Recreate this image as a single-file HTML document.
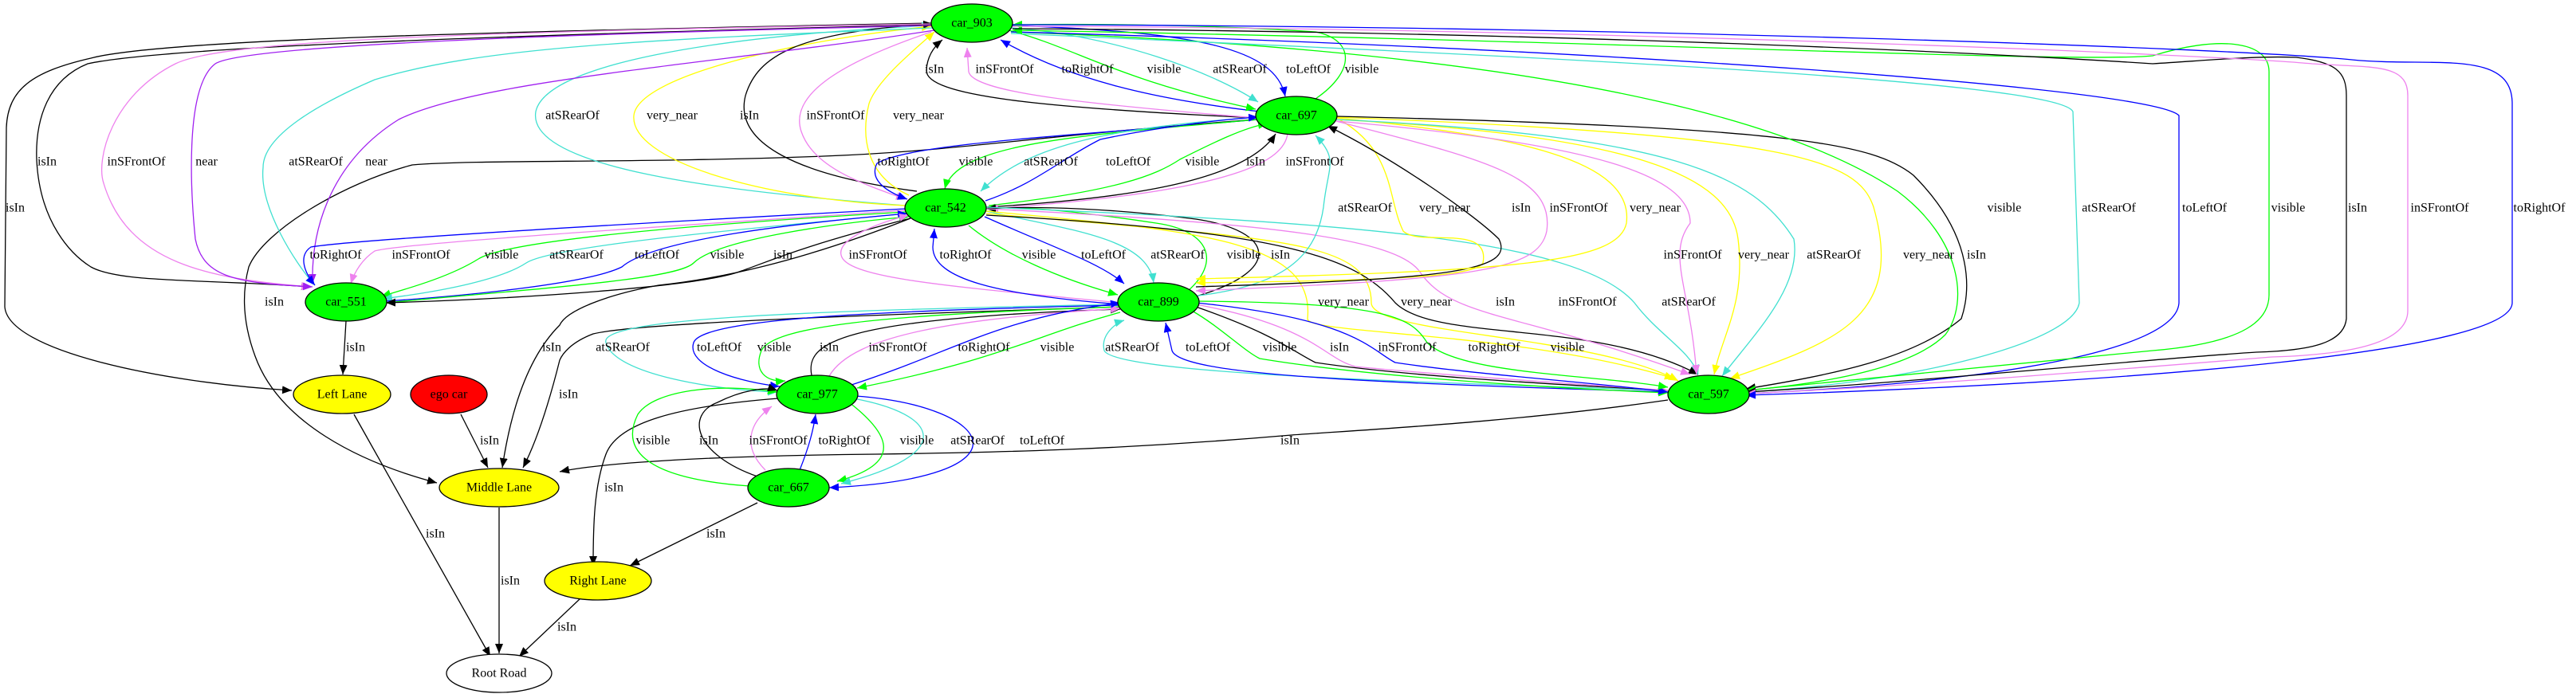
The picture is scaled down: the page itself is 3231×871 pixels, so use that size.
<!DOCTYPE html>
<html><head><meta charset="utf-8"><style>
html,body{margin:0;padding:0;background:#fff}
svg{display:block}
text{font-family:"Liberation Serif",serif;font-size:16px;fill:#000;text-anchor:middle;dominant-baseline:central}
path{fill:none;stroke-width:1.3}
.k{stroke:#000}.b{stroke:#0000ff}.g{stroke:#00ff00}.v{stroke:#ee82ee}.t{stroke:#40e0d0}.y{stroke:#ffff00}.p{stroke:#a020f0}
.k{marker-end:url(#mk)}.b{marker-end:url(#mb)}.g{marker-end:url(#mg)}.v{marker-end:url(#mv)}.t{marker-end:url(#mt)}.y{marker-end:url(#my)}.p{marker-end:url(#mp)}
ellipse{stroke:#000;stroke-width:1.3}
</style></head><body>
<svg width="3231" height="871" viewBox="0 0 3231 871" xmlns="http://www.w3.org/2000/svg">
<defs>
<marker id="mk" markerUnits="userSpaceOnUse" markerWidth="14" markerHeight="12" refX="12" refY="5" orient="auto"><path d="M0,0 L12,5 L0,10z" style="fill:#000;stroke:none"/></marker>
<marker id="mb" markerUnits="userSpaceOnUse" markerWidth="14" markerHeight="12" refX="12" refY="5" orient="auto"><path d="M0,0 L12,5 L0,10z" style="fill:#0000ff;stroke:none"/></marker>
<marker id="mg" markerUnits="userSpaceOnUse" markerWidth="14" markerHeight="12" refX="12" refY="5" orient="auto"><path d="M0,0 L12,5 L0,10z" style="fill:#00ff00;stroke:none"/></marker>
<marker id="mv" markerUnits="userSpaceOnUse" markerWidth="14" markerHeight="12" refX="12" refY="5" orient="auto"><path d="M0,0 L12,5 L0,10z" style="fill:#ee82ee;stroke:none"/></marker>
<marker id="mt" markerUnits="userSpaceOnUse" markerWidth="14" markerHeight="12" refX="12" refY="5" orient="auto"><path d="M0,0 L12,5 L0,10z" style="fill:#40e0d0;stroke:none"/></marker>
<marker id="my" markerUnits="userSpaceOnUse" markerWidth="14" markerHeight="12" refX="12" refY="5" orient="auto"><path d="M0,0 L12,5 L0,10z" style="fill:#ffff00;stroke:none"/></marker>
<marker id="mp" markerUnits="userSpaceOnUse" markerWidth="14" markerHeight="12" refX="12" refY="5" orient="auto"><path d="M0,0 L12,5 L0,10z" style="fill:#a020f0;stroke:none"/></marker>
</defs>

<!-- tree edges -->
<path class="k" d="M434,403 L430,470"/>
<path class="k" d="M1170,29 C600,40 200,50 114,73 C40,90 10,112 8,160 L6,385 C10,440 200,480 366,490"/>
<path class="k" d="M1170,31 C600,45 200,60 110,80 C60,100 44,150 46,201 C50,280 90,320 114,335 C150,355 250,350 390,360"/>
<path class="k" d="M1576,150 C1300,170 1200,190 1033,196 C800,205 600,200 517,207 C430,230 330,290 312,335 C300,380 310,420 320,447 C350,530 450,580 548,606"/>
<path class="k" d="M1142,274 C1000,330 900,350 826,358 C760,370 710,390 702,408 C660,450 640,520 630,587"/>
<path class="k" d="M1405,385 C1100,395 800,405 744,419 C715,430 705,445 702,452 C690,500 675,550 656,587"/>
<path class="k" d="M578,520 L612,587"/>
<path class="k" d="M2092,502 C1900,530 1700,540 1620,546 C1400,565 1240,568 1100,570 C900,572 760,580 702,592"/>
<path class="k" d="M950,631 L790,710"/>
<path class="k" d="M976,500 C850,510 775,530 760,570 C745,610 744,660 744,710"/>
<path class="k" d="M444,520 L615,824"/>
<path class="k" d="M626,637 L626,820"/>
<path class="k" d="M728,751 L651,824"/>

<!-- 903 <-> 697 -->
<path class="k" d="M1577,148 C1300,135 1160,120 1162,88 C1163,70 1172,58 1182,50"/>
<path class="v" d="M1577,148 C1350,130 1220,115 1215,90 L1213,60"/>
<path class="b" d="M1580,140 C1450,125 1340,100 1255,50"/>
<path class="g" d="M1265,38 C1350,60 1400,100 1575,137"/>
<path class="t" d="M1268,35 C1400,45 1520,90 1578,128"/>
<path class="b" d="M1268,32 C1500,40 1600,60 1612,121"/>
<path class="g" d="M1650,124 C1700,90 1700,50 1650,40 C1500,30 1350,30 1270,31"/>

<!-- 903 <-> 542 -->
<path class="t" d="M1136,258 C900,240 660,210 672,140 C685,80 900,45 1168,32"/>
<path class="y" d="M1136,258 C950,250 790,200 795,145 C800,95 1000,50 1168,33"/>
<path class="k" d="M1150,240 C1000,220 920,180 935,120 C950,70 1000,40 1170,30"/>
<path class="v" d="M1168,40 C1050,80 990,120 1005,165 C1020,210 1080,230 1136,250"/>
<path class="y" d="M1140,245 C1085,220 1080,170 1090,130 C1100,100 1150,60 1172,40"/>

<!-- 903 -> 551 -->
<path class="v" d="M1168,30 C600,40 280,50 220,80 C140,120 120,200 130,230 C160,330 260,350 390,360"/>
<path class="p" d="M1168,32 C600,45 300,60 270,80 C230,110 240,250 245,300 C255,350 300,355 392,360"/>
<path class="t" d="M1170,35 C800,50 600,60 470,100 C400,130 330,170 330,210 C325,260 370,330 395,358"/>
<path class="p" d="M1172,38 C900,80 600,100 500,150 C420,200 390,280 392,356"/>

<!-- 697 <-> 542 -->
<path class="b" d="M1578,150 C1350,170 1140,180 1100,205 C1090,225 1110,240 1138,250"/>
<path class="g" d="M1578,150 C1350,170 1200,180 1185,237"/>
<path class="t" d="M1578,147 C1400,160 1290,180 1230,240"/>
<path class="b" d="M1236,252 C1300,230 1330,200 1380,175 C1450,160 1530,150 1578,147"/>
<path class="g" d="M1240,258 C1400,240 1450,220 1480,200 C1520,180 1560,160 1590,155"/>
<path class="k" d="M1237,260 C1400,250 1560,230 1600,168"/>
<path class="v" d="M1615,168 C1610,200 1560,240 1240,262"/>

<!-- 542 <-> 551 -->
<path class="b" d="M1136,262 C800,280 450,300 390,310 C375,320 380,340 395,358"/>
<path class="v" d="M1136,264 C900,280 500,305 470,315 C455,325 445,340 440,356"/>
<path class="g" d="M1136,266 C900,280 640,300 600,325 C560,350 500,365 478,372"/>
<path class="t" d="M1138,268 C900,290 690,310 660,330 C630,350 560,365 480,375"/>
<path class="b" d="M484,378 C600,370 740,355 780,335 C820,300 1000,280 1138,268"/>
<path class="g" d="M484,380 C700,360 850,350 870,330 C900,300 1050,280 1140,272"/>
<path class="k" d="M1142,274 C1000,310 960,330 930,340 C880,360 650,375 484,380"/>

<!-- 542 <-> 899 -->
<path class="v" d="M1405,380 C1200,360 1060,350 1055,320 C1050,300 1100,280 1140,270"/>
<path class="b" d="M1405,382 C1250,370 1170,350 1170,310 L1172,287"/>
<path class="g" d="M1215,283 C1260,320 1330,350 1402,370"/>
<path class="b" d="M1235,272 C1320,310 1380,330 1410,356"/>
<path class="t" d="M1237,265 C1350,290 1440,300 1447,355"/>
<path class="g" d="M1490,365 C1530,330 1520,290 1450,280 C1350,265 1280,258 1236,262"/>
<path class="k" d="M1500,372 C1610,340 1600,290 1500,275 C1400,262 1300,258 1237,262"/>

<!-- 542 -> 597 -->
<path class="y" d="M1237,265 C1500,290 1650,300 1640,400 C1640,420 1900,415 2100,475"/>
<path class="y" d="M1237,268 C1600,300 1720,300 1720,380 C1720,420 2000,420 2105,478"/>
<path class="k" d="M1237,270 C1600,290 1700,320 1750,380 C1800,430 2000,400 2130,470"/>
<path class="v" d="M1237,262 C1600,280 1750,300 1780,340 C1820,400 1900,390 2120,470"/>
<path class="t" d="M1237,260 C1700,280 1980,300 2050,380 C2080,420 2120,440 2130,470"/>

<!-- 697 <-> 899 / 597 -->
<path class="t" d="M1495,372 C1600,360 1650,330 1660,260 C1665,210 1680,200 1650,170"/>
<path class="y" d="M1680,150 C1750,190 1740,250 1760,290 C1780,310 1870,280 1860,330 C1850,350 1700,352 1500,355"/>
<path class="k" d="M1500,360 C1820,350 1900,340 1880,300 C1850,270 1750,200 1665,158"/>
<path class="v" d="M1676,152 C1860,200 1950,220 1940,290 C1930,340 1850,350 1500,365"/>
<path class="y" d="M1676,148 C1900,170 2050,200 2040,280 C2030,330 1900,340 1500,350"/>
<path class="v" d="M1676,152 C2000,180 2120,220 2120,280 C2090,320 2120,360 2128,470"/>
<path class="y" d="M1676,150 C2050,170 2170,220 2180,300 C2190,380 2160,420 2150,470"/>
<path class="t" d="M1676,150 C2100,170 2200,220 2250,300 C2260,360 2200,420 2160,472"/>
<path class="y" d="M1676,147 C2250,170 2330,200 2350,260 C2390,400 2300,430 2170,475"/>
<path class="k" d="M1676,146 C2250,160 2350,180 2400,220 C2480,300 2470,370 2460,400 C2400,450 2300,470 2190,488"/>

<!-- 903 -> 597 long -->
<path class="g" d="M1268,40 C1800,60 2200,120 2380,240 C2460,300 2470,380 2440,420 C2400,460 2300,480 2190,490"/>
<path class="t" d="M1268,42 C1900,70 2580,100 2600,140 L2608,380 C2600,430 2400,480 2190,492"/>
<path class="b" d="M1268,40 C2000,60 2700,110 2733,145 L2733,380 C2730,440 2500,480 2190,494"/>
<path class="g" d="M2190,490 C2400,470 2600,450 2700,440 C2820,430 2846,400 2846,370 L2846,90 C2846,50 2780,45 2700,70 C2600,80 2000,50 1270,38"/>
<path class="k" d="M1270,36 C2000,40 2550,70 2700,80 C2780,75 2830,70 2880,72 C2930,78 2943,90 2943,120 L2943,400 C2940,430 2900,440 2830,442 C2700,450 2400,480 2190,492"/>
<path class="v" d="M1270,33 C2000,35 2800,70 2900,80 C2980,85 3020,80 3020,120 L3020,390 C3020,430 2950,445 2850,448 C2700,460 2400,485 2190,494"/>
<path class="b" d="M1270,31 C2000,32 2800,60 2950,75 C3050,85 3151,60 3151,130 L3151,380 C3151,440 2700,480 2190,496"/>

<!-- 899 <-> 597 -->
<path class="t" d="M2092,490 C1800,480 1400,470 1385,440 C1380,420 1400,405 1410,402"/>
<path class="b" d="M2092,492 C1700,480 1480,470 1470,440 L1462,405"/>
<path class="g" d="M1495,390 C1530,410 1560,440 1580,450 C1700,470 1900,485 2092,493"/>
<path class="k" d="M1500,385 C1600,420 1620,440 1650,455 C1750,470 1900,480 2092,490"/>
<path class="v" d="M1500,382 C1650,410 1660,450 1700,460 C1800,470 1950,480 2092,490"/>
<path class="b" d="M1500,380 C1700,400 1720,440 1750,455 C1850,470 2000,480 2092,492"/>
<path class="g" d="M1500,378 C1750,380 1770,400 1790,430 C1830,470 2000,470 2092,486"/>

<!-- 899 <-> 977 -->
<path class="t" d="M1405,382 C1000,390 750,400 760,430 C770,470 900,490 975,492"/>
<path class="b" d="M1405,383 C1100,390 880,400 870,430 C860,460 930,480 978,485"/>
<path class="g" d="M1405,385 C1100,395 970,410 955,440 C945,465 960,480 985,478"/>
<path class="k" d="M1018,471 C1010,430 1050,400 1405,388"/>
<path class="v" d="M1040,472 C1070,420 1200,400 1405,387"/>
<path class="b" d="M1068,483 C1200,440 1250,400 1405,380"/>
<path class="g" d="M1405,392 C1300,420 1260,450 1075,487"/>

<!-- 977 <-> 667 -->
<path class="g" d="M940,610 C800,600 780,560 800,520 C820,490 900,480 975,492"/>
<path class="k" d="M950,598 C870,570 860,520 900,505 C930,490 960,485 975,490"/>
<path class="v" d="M960,590 C930,560 940,530 968,510"/>
<path class="b" d="M1003,590 C1015,560 1020,540 1023,520"/>
<path class="g" d="M1065,505 C1110,540 1140,580 1050,604"/>
<path class="t" d="M1070,500 C1180,520 1200,570 1055,607"/>
<path class="b" d="M1073,497 C1250,510 1300,600 1040,612"/>

<!-- nodes -->
<ellipse cx="1219" cy="29" rx="51" ry="24" fill="#00ff00"/><text x="1219" y="29">car_903</text>
<ellipse cx="1626" cy="145" rx="51" ry="24" fill="#00ff00"/><text x="1626" y="145">car_697</text>
<ellipse cx="1186" cy="261" rx="51" ry="24" fill="#00ff00"/><text x="1186" y="261">car_542</text>
<ellipse cx="434" cy="379" rx="51" ry="24" fill="#00ff00"/><text x="434" y="379">car_551</text>
<ellipse cx="1453" cy="379" rx="51" ry="24" fill="#00ff00"/><text x="1453" y="379">car_899</text>
<ellipse cx="2143" cy="495" rx="51" ry="24" fill="#00ff00"/><text x="2143" y="495">car_597</text>
<ellipse cx="1025" cy="495" rx="51" ry="24" fill="#00ff00"/><text x="1025" y="495">car_977</text>
<ellipse cx="989" cy="612" rx="51" ry="24" fill="#00ff00"/><text x="989" y="612">car_667</text>
<ellipse cx="429" cy="495" rx="61" ry="24" fill="#ffff00"/><text x="429" y="495">Left Lane</text>
<ellipse cx="563" cy="495" rx="48" ry="24" fill="#ff0000"/><text x="563" y="495">ego car</text>
<ellipse cx="626" cy="612" rx="75" ry="24" fill="#ffff00"/><text x="626" y="612">Middle Lane</text>
<ellipse cx="750" cy="729" rx="67" ry="24" fill="#ffff00"/><text x="750" y="729">Right Lane</text>
<ellipse cx="626" cy="845" rx="66" ry="24" fill="#ffffff"/><text x="626" y="845">Root Road</text>

<!-- labels -->
<text x="1172" y="87">isIn</text><text x="1260" y="87">inSFrontOf</text><text x="1364" y="87">toRightOf</text><text x="1460" y="87">visible</text><text x="1555" y="87">atSRearOf</text><text x="1641" y="87">toLeftOf</text><text x="1708" y="87">visible</text>
<text x="718" y="145">atSRearOf</text><text x="843" y="145">very_near</text><text x="940" y="145">isIn</text><text x="1048" y="145">inSFrontOf</text><text x="1152" y="145">very_near</text>
<text x="59" y="203">isIn</text><text x="171" y="203">inSFrontOf</text><text x="259" y="203">near</text><text x="396" y="203">atSRearOf</text><text x="472" y="203">near</text><text x="1133" y="203">toRightOf</text><text x="1224" y="203">visible</text><text x="1318" y="203">atSRearOf</text><text x="1415" y="203">toLeftOf</text><text x="1508" y="203">visible</text><text x="1575" y="203">isIn</text><text x="1649" y="203">inSFrontOf</text>
<text x="19" y="261">isIn</text><text x="1712" y="261">atSRearOf</text><text x="1812" y="261">very_near</text><text x="1908" y="261">isIn</text><text x="1980" y="261">inSFrontOf</text><text x="2076" y="261">very_near</text><text x="2514" y="261">visible</text><text x="2645" y="261">atSRearOf</text><text x="2765" y="261">toLeftOf</text><text x="2870" y="261">visible</text><text x="2957" y="261">isIn</text><text x="3060" y="261">inSFrontOf</text><text x="3185" y="261">toRightOf</text>
<text x="421" y="320">toRightOf</text><text x="528" y="320">inSFrontOf</text><text x="629" y="320">visible</text><text x="723" y="320">atSRearOf</text><text x="824" y="320">toLeftOf</text><text x="912" y="320">visible</text><text x="982" y="320">isIn</text><text x="1101" y="320">inSFrontOf</text><text x="1211" y="320">toRightOf</text><text x="1303" y="320">visible</text><text x="1384" y="320">toLeftOf</text><text x="1477" y="320">atSRearOf</text><text x="1560" y="320">visible</text><text x="1606" y="320">isIn</text><text x="2123" y="320">inSFrontOf</text><text x="2212" y="320">very_near</text><text x="2300" y="320">atSRearOf</text><text x="2419" y="320">very_near</text><text x="2479" y="320">isIn</text>
<text x="344" y="379">isIn</text><text x="1685" y="379">very_near</text><text x="1789" y="379">very_near</text><text x="1888" y="379">isIn</text><text x="1991" y="379">inSFrontOf</text><text x="2118" y="379">atSRearOf</text>
<text x="446" y="436">isIn</text><text x="692" y="436">isIn</text><text x="781" y="436">atSRearOf</text><text x="902" y="436">toLeftOf</text><text x="971" y="436">visible</text><text x="1040" y="436">isIn</text><text x="1126" y="436">inSFrontOf</text><text x="1234" y="436">toRightOf</text><text x="1326" y="436">visible</text><text x="1420" y="436">atSRearOf</text><text x="1515" y="436">toLeftOf</text><text x="1605" y="436">visible</text><text x="1680" y="436">isIn</text><text x="1765" y="436">inSFrontOf</text><text x="1874" y="436">toRightOf</text><text x="1966" y="436">visible</text>
<text x="713" y="495">isIn</text>
<text x="614" y="553">isIn</text><text x="819" y="553">visible</text><text x="889" y="553">isIn</text><text x="976" y="553">inSFrontOf</text><text x="1059" y="553">toRightOf</text><text x="1150" y="553">visible</text><text x="1226" y="553">atSRearOf</text><text x="1307" y="553">toLeftOf</text><text x="1618" y="553">isIn</text>
<text x="770" y="612">isIn</text>
<text x="546" y="670">isIn</text><text x="898" y="670">isIn</text>
<text x="640" y="729">isIn</text>
<text x="711" y="787">isIn</text>
</svg>
</body></html>
